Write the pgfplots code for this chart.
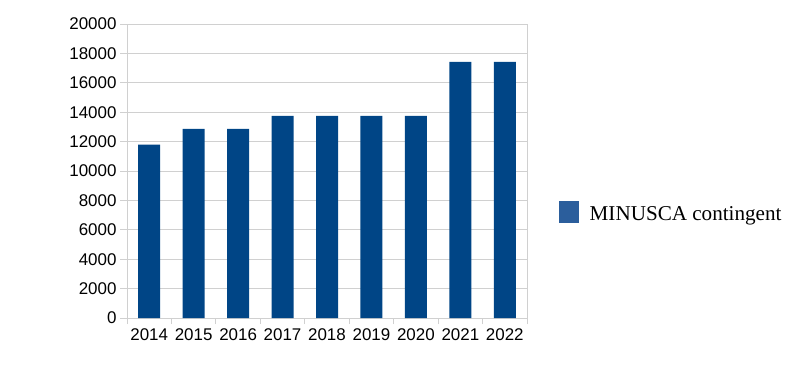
\documentclass[border=0pt]{standalone}
\usepackage{fontspec}
\setmainfont{Liberation Serif}
\newfontfamily\sansf{Liberation Sans}
\usepackage{pgfplots}
\pgfplotsset{compat=1.18}
\definecolor{barblue}{HTML}{004586}
\definecolor{legblue}{HTML}{2B5E9C}
\definecolor{gridgray}{HTML}{D0D0D0}
\begin{document}
\begin{tikzpicture}[x=1bp,y=1bp]
\path[use as bounding box] (0,0) rectangle (803,364);
\begin{axis}[
  at={(127bp,46bp)}, anchor=south west,
  scale only axis, width=400bp, height=294bp,
  xmin=-0.5, xmax=8.5, ymin=0, ymax=20000,
  ytick={0,2000,...,20000},
  xtick={0,...,8},
  xticklabels={2014,2015,2016,2017,2018,2019,2020,2021,2022},
  minor xtick={-0.5,0.5,...,8.5},
  scaled ticks=false,
  /pgf/number format/assume math mode=true,
  /pgf/number format/fixed,
  /pgf/number format/1000 sep={},
  ticklabel style={font=\sansf\fontsize{17}{20}\selectfont, text=black},
  ymajorgrids,
  grid style={gridgray, line width=0.9bp},
  axis line style={gridgray, line width=0.9bp},
  major x tick style={draw=none},
  minor x tick style={gridgray, line width=0.9bp},
  ytick style={gridgray, line width=0.9bp},
  major tick length=7bp, minor tick length=6bp,
  tick align=outside, tick pos=left,
  ybar, bar width=22bp, bar shift=0pt,
  legend style={at={(1.08,0.361)}, anchor=west, draw=none, fill=none,
    inner sep=0pt, column sep=11bp,
    nodes={inner sep=0pt},
    font=\fontsize{21.2}{24}\selectfont},
  legend image code/.code={\fill[legblue] (0bp,-8.4bp) rectangle (19.5bp,13.2bp);},
]
\addplot[fill=barblue, draw=none] coordinates {
(0,11800) (1,12870) (2,12870) (3,13750) (4,13750) (5,13750) (6,13750) (7,17430) (8,17430)};
\addlegendentry{MINUSCA contingent}
\end{axis}
\end{tikzpicture}
\end{document}
